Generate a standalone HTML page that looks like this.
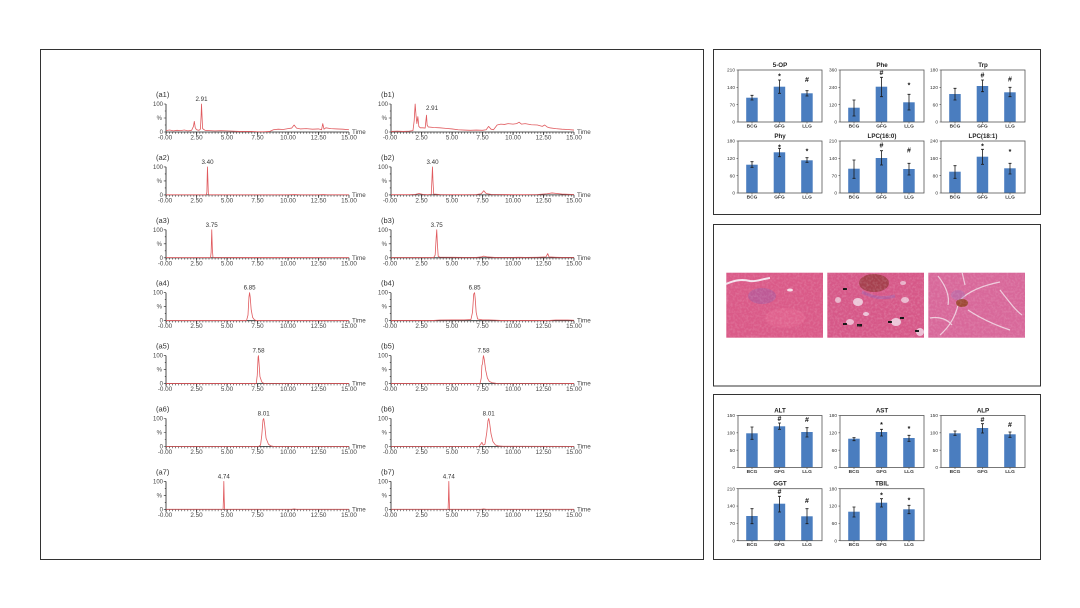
<!DOCTYPE html>
<html><head><meta charset="utf-8"><style>
html,body{margin:0;padding:0;background:#fff;}
svg{display:block;}
text{font-family:"Liberation Sans",sans-serif;}
.lb{font-size:7.5px;fill:#333;}
.yt{font-size:6px;fill:#444;text-anchor:end;}
.xt{font-size:6.3px;fill:#444;text-anchor:middle;}
.pk{font-size:6.2px;fill:#333;text-anchor:middle;}
.tm{font-size:6.3px;fill:#444;}
.tr{fill:none;stroke:#e05a5e;stroke-width:0.8;vector-effect:non-scaling-stroke;stroke-linejoin:round;}
.bt{font-size:6.2px;font-weight:bold;fill:#222;text-anchor:middle;}
.by{font-size:4.8px;fill:#333;text-anchor:end;}
.bx{font-size:4.8px;font-weight:bold;fill:#333;text-anchor:middle;}
.mk{font-size:7px;font-weight:bold;fill:#111;text-anchor:middle;}
.bar{fill:#4a7dbf;}
.eb{stroke:#1a1a1a;stroke-width:0.8;fill:none;}
.fr{fill:none;stroke:#555;stroke-width:0.8;}
</style></head><body>
<svg width="1080" height="608" viewBox="0 0 1080 608" xmlns="http://www.w3.org/2000/svg">
<defs>
<pattern id="tp" patternUnits="userSpaceOnUse" x="0" y="0" width="3.05" height="4">
<rect x="0" y="0" width="0.6" height="4" fill="#333"/>
</pattern>
<g id="axA">
<rect x="0" y="0" width="183" height="1.8" fill="url(#tp)"/>
<path d="M0,-28V0H183" stroke="#222" stroke-width="0.8" fill="none"/>
<path d="M0,0v3M30.5,0v3M61,0v3M91.5,0v3M122,0v3M152.5,0v3M183,0v3" stroke="#222" stroke-width="0.7"/>
<path d="M0,-28h-2.2M0,-14h-2.2M0,0h-2.2M0,-21h-1.2M0,-7h-1.2" stroke="#222" stroke-width="0.6"/>
</g>
<g id="bticks">
<path d="M0,0h-1.5M0,17.33h-1.5M0,34.67h-1.5M0,52h-1.5M14,52v1.5M41.5,52v1.5M69,52v1.5" stroke="#444" stroke-width="0.6"/>
</g>
<filter id="nz" x="0" y="0" width="100%" height="100%">
<feTurbulence type="fractalNoise" baseFrequency="0.45" numOctaves="2" seed="3"/>
<feColorMatrix values="0 0 0 0 1  0 0 0 0 1  0 0 0 0 1  0 0 0 0.9 -0.35"/>
</filter>
</defs>

<rect width="1080" height="608" fill="#fff"/>

<!-- panel frames -->
<rect x="40.5" y="49.5" width="663" height="510" fill="none" stroke="#333" stroke-width="1"/>
<rect x="713.5" y="49.5" width="327" height="165" fill="none" stroke="#333" stroke-width="1"/>
<rect x="713.5" y="224.5" width="327" height="161.5" fill="none" stroke="#333" stroke-width="1"/>
<rect x="713.5" y="394.5" width="327" height="165" fill="none" stroke="#333" stroke-width="1"/>

<!-- ===== chromatograms column a ===== -->
<g transform="translate(166,132)">
<text x="-10" y="-35" class="lb">(a1)</text>
<text x="-3" y="-26" class="yt">100</text><text x="-4" y="-12" class="yt">%</text><text x="-3" y="2" class="yt">0</text>
<use href="#axA"/>
<path class="tr" transform="scale(12.2,-0.28)" d="M0,5 L0.3,7 0.6,4 0.9,6 1.2,5 1.5,7 1.8,4 2.1,6 2.25,20 2.32,38 2.4,15 2.5,8 2.7,6 2.82,10 2.88,60 2.91,100 2.95,60 3.0,12 3.2,6 3.6,5 4,4 4.5,5 5,4 5.5,3 6,2 6.5,2 7,2 7.5,1 8,1 8.5,2 8.8,8 9.2,10 9.6,9 10,12 10.3,14 10.5,25 10.7,14 11,11 11.5,12 12,10 12.5,11 12.75,8 12.85,30 12.95,10 13.1,15 13.5,12 14,11 14.5,10 15,8"/>
<text x="35.5" y="-31" class="pk">2.91</text>
<text x="-1" y="7.5" class="xt">-0.00</text><text x="30.5" y="7.5" class="xt">2.50</text><text x="61" y="7.5" class="xt">5.00</text><text x="91.5" y="7.5" class="xt">7.50</text><text x="122" y="7.5" class="xt">10.00</text><text x="152.5" y="7.5" class="xt">12.50</text><text x="183" y="7.5" class="xt">15.00</text>
<text x="186" y="2" class="tm">Time</text>
</g>

<g transform="translate(166,194.9)">
<text x="-10" y="-35" class="lb">(a2)</text>
<text x="-3" y="-26" class="yt">100</text><text x="-4" y="-12" class="yt">%</text><text x="-3" y="2" class="yt">0</text>
<use href="#axA"/>
<path class="tr" transform="scale(12.2,-0.28)" d="M0,0.5 L3.3,0.5 3.35,10 3.38,70 3.40,100 3.43,60 3.47,5 3.52,0.5 L10,0.5 10.5,1.5 11,0.5 12.5,0.5 12.9,1.5 13.2,0.5 L15,0.5"/>
<text x="41.5" y="-31" class="pk">3.40</text>
<text x="-1" y="7.5" class="xt">-0.00</text><text x="30.5" y="7.5" class="xt">2.50</text><text x="61" y="7.5" class="xt">5.00</text><text x="91.5" y="7.5" class="xt">7.50</text><text x="122" y="7.5" class="xt">10.00</text><text x="152.5" y="7.5" class="xt">12.50</text><text x="183" y="7.5" class="xt">15.00</text>
<text x="186" y="2" class="tm">Time</text>
</g>

<g transform="translate(166,257.8)">
<text x="-10" y="-35" class="lb">(a3)</text>
<text x="-3" y="-26" class="yt">100</text><text x="-4" y="-12" class="yt">%</text><text x="-3" y="2" class="yt">0</text>
<use href="#axA"/>
<path class="tr" transform="scale(12.2,-0.28)" d="M0,0.5 L3.65,0.5 3.7,20 3.75,100 3.8,30 3.85,1 L15,0.5"/>
<text x="45.7" y="-31" class="pk">3.75</text>
<text x="-1" y="7.5" class="xt">-0.00</text><text x="30.5" y="7.5" class="xt">2.50</text><text x="61" y="7.5" class="xt">5.00</text><text x="91.5" y="7.5" class="xt">7.50</text><text x="122" y="7.5" class="xt">10.00</text><text x="152.5" y="7.5" class="xt">12.50</text><text x="183" y="7.5" class="xt">15.00</text>
<text x="186" y="2" class="tm">Time</text>
</g>

<g transform="translate(166,320.7)">
<text x="-10" y="-35" class="lb">(a4)</text>
<text x="-3" y="-26" class="yt">100</text><text x="-4" y="-12" class="yt">%</text><text x="-3" y="2" class="yt">0</text>
<use href="#axA"/>
<path class="tr" transform="scale(12.2,-0.28)" d="M0,0.5 L6.6,0.5 6.72,20 6.8,85 6.85,100 6.9,85 6.98,40 7.1,12 7.25,3 7.4,0.5 L15,0.5"/>
<text x="83.6" y="-31" class="pk">6.85</text>
<text x="-1" y="7.5" class="xt">-0.00</text><text x="30.5" y="7.5" class="xt">2.50</text><text x="61" y="7.5" class="xt">5.00</text><text x="91.5" y="7.5" class="xt">7.50</text><text x="122" y="7.5" class="xt">10.00</text><text x="152.5" y="7.5" class="xt">12.50</text><text x="183" y="7.5" class="xt">15.00</text>
<text x="186" y="2" class="tm">Time</text>
</g>

<g transform="translate(166,383.6)">
<text x="-10" y="-35" class="lb">(a5)</text>
<text x="-3" y="-26" class="yt">100</text><text x="-4" y="-12" class="yt">%</text><text x="-3" y="2" class="yt">0</text>
<use href="#axA"/>
<path class="tr" transform="scale(12.2,-0.28)" d="M0,0.5 L7.4,0.5 7.48,30 7.55,95 7.58,100 7.63,70 7.7,25 7.85,6 8,1 L15,0.5"/>
<text x="92.5" y="-31" class="pk">7.58</text>
<text x="-1" y="7.5" class="xt">-0.00</text><text x="30.5" y="7.5" class="xt">2.50</text><text x="61" y="7.5" class="xt">5.00</text><text x="91.5" y="7.5" class="xt">7.50</text><text x="122" y="7.5" class="xt">10.00</text><text x="152.5" y="7.5" class="xt">12.50</text><text x="183" y="7.5" class="xt">15.00</text>
<text x="186" y="2" class="tm">Time</text>
</g>

<g transform="translate(166,446.5)">
<text x="-10" y="-35" class="lb">(a6)</text>
<text x="-3" y="-26" class="yt">100</text><text x="-4" y="-12" class="yt">%</text><text x="-3" y="2" class="yt">0</text>
<use href="#axA"/>
<path class="tr" transform="scale(12.2,-0.28)" d="M0,0.5 L7.6,0.5 7.75,5 7.85,40 7.95,95 8.01,100 8.08,80 8.2,30 8.4,8 8.6,2 8.8,0.5 L15,0.5"/>
<text x="97.7" y="-31" class="pk">8.01</text>
<text x="-1" y="7.5" class="xt">-0.00</text><text x="30.5" y="7.5" class="xt">2.50</text><text x="61" y="7.5" class="xt">5.00</text><text x="91.5" y="7.5" class="xt">7.50</text><text x="122" y="7.5" class="xt">10.00</text><text x="152.5" y="7.5" class="xt">12.50</text><text x="183" y="7.5" class="xt">15.00</text>
<text x="186" y="2" class="tm">Time</text>
</g>

<g transform="translate(166,509.4)">
<text x="-10" y="-35" class="lb">(a7)</text>
<text x="-3" y="-26" class="yt">100</text><text x="-4" y="-12" class="yt">%</text><text x="-3" y="2" class="yt">0</text>
<use href="#axA"/>
<path class="tr" transform="scale(12.2,-0.28)" d="M0,0.5 L4.68,0.5 4.71,40 4.74,100 4.77,40 4.8,0.5 L10.3,0.5 10.5,2 10.7,0.5 L15,0.5"/>
<text x="57.8" y="-31" class="pk">4.74</text>
<text x="-1" y="7.5" class="xt">-0.00</text><text x="30.5" y="7.5" class="xt">2.50</text><text x="61" y="7.5" class="xt">5.00</text><text x="91.5" y="7.5" class="xt">7.50</text><text x="122" y="7.5" class="xt">10.00</text><text x="152.5" y="7.5" class="xt">12.50</text><text x="183" y="7.5" class="xt">15.00</text>
<text x="186" y="2" class="tm">Time</text>
</g>

<!-- ===== chromatograms column b ===== -->
<g transform="translate(391,132)">
<text x="-10" y="-35" class="lb">(b1)</text>
<text x="-3" y="-26" class="yt">100</text><text x="-4" y="-12" class="yt">%</text><text x="-3" y="2" class="yt">0</text>
<use href="#axA"/>
<path class="tr" transform="scale(12.2,-0.28)" d="M0,2 L0.5,3 1,2 1.5,3 1.8,5 1.9,40 1.98,100 2.05,60 2.12,30 2.2,55 2.28,20 2.4,15 2.6,15 2.8,14 2.86,40 2.91,60 2.96,25 3.05,18 3.5,16 4,15 4.5,13 5,11 5.5,8 6,7 6.5,6 7,7 7.5,6 7.8,8 8.0,20 8.2,10 8.4,8 8.7,25 9,28 9.3,27 9.6,30 10,28 10.3,30 10.5,35 10.7,28 11,30 11.5,26 12,25 12.4,20 12.6,25 12.8,18 13,15 13.5,12 14,10 14.5,9 15,7"/>
<text x="41" y="-22" class="pk">2.91</text>
<text x="-1" y="7.5" class="xt">-0.00</text><text x="30.5" y="7.5" class="xt">2.50</text><text x="61" y="7.5" class="xt">5.00</text><text x="91.5" y="7.5" class="xt">7.50</text><text x="122" y="7.5" class="xt">10.00</text><text x="152.5" y="7.5" class="xt">12.50</text><text x="183" y="7.5" class="xt">15.00</text>
<text x="186" y="2" class="tm">Time</text>
</g>

<g transform="translate(391,194.9)">
<text x="-10" y="-35" class="lb">(b2)</text>
<text x="-3" y="-26" class="yt">100</text><text x="-4" y="-12" class="yt">%</text><text x="-3" y="2" class="yt">0</text>
<use href="#axA"/>
<path class="tr" transform="scale(12.2,-0.28)" d="M0,1 L1.5,1 2,2 2.3,5 2.6,2 3,1 3.3,2 3.36,60 3.40,100 3.44,50 3.5,3 4,1.5 5,1 6,1 7,1.5 7.4,4 7.6,15 7.8,5 8.2,2 9,1.5 10,1 11,1 12,1.5 12.8,4 13.2,7 13.6,5 14,3 15,1.5"/>
<text x="41.5" y="-31" class="pk">3.40</text>
<text x="-1" y="7.5" class="xt">-0.00</text><text x="30.5" y="7.5" class="xt">2.50</text><text x="61" y="7.5" class="xt">5.00</text><text x="91.5" y="7.5" class="xt">7.50</text><text x="122" y="7.5" class="xt">10.00</text><text x="152.5" y="7.5" class="xt">12.50</text><text x="183" y="7.5" class="xt">15.00</text>
<text x="186" y="2" class="tm">Time</text>
</g>

<g transform="translate(391,257.8)">
<text x="-10" y="-35" class="lb">(b3)</text>
<text x="-3" y="-26" class="yt">100</text><text x="-4" y="-12" class="yt">%</text><text x="-3" y="2" class="yt">0</text>
<use href="#axA"/>
<path class="tr" transform="scale(12.2,-0.28)" d="M0,1 L3.5,1 3.62,10 3.7,70 3.75,100 3.8,50 3.87,5 4,2.5 5,2 6,1.5 7,1.5 7.4,3 7.6,6 7.9,3 8.5,1.5 10,1.5 10.5,2 11,1.5 12,2 12.7,3 12.85,15 12.95,3 13.5,2 14,1.5 15,1.5"/>
<text x="45.7" y="-31" class="pk">3.75</text>
<text x="-1" y="7.5" class="xt">-0.00</text><text x="30.5" y="7.5" class="xt">2.50</text><text x="61" y="7.5" class="xt">5.00</text><text x="91.5" y="7.5" class="xt">7.50</text><text x="122" y="7.5" class="xt">10.00</text><text x="152.5" y="7.5" class="xt">12.50</text><text x="183" y="7.5" class="xt">15.00</text>
<text x="186" y="2" class="tm">Time</text>
</g>

<g transform="translate(391,320.7)">
<text x="-10" y="-35" class="lb">(b4)</text>
<text x="-3" y="-26" class="yt">100</text><text x="-4" y="-12" class="yt">%</text><text x="-3" y="2" class="yt">0</text>
<use href="#axA"/>
<path class="tr" transform="scale(12.2,-0.28)" d="M0,1 L3.5,1 4,2.5 5,3 6,3 6.55,4 6.68,30 6.78,95 6.85,100 6.9,80 6.98,30 7.1,6 7.5,3 8,3 8.5,2 9,1 13,1 13.5,2.5 14.5,2.5 15,1.5"/>
<text x="83.6" y="-31" class="pk">6.85</text>
<text x="-1" y="7.5" class="xt">-0.00</text><text x="30.5" y="7.5" class="xt">2.50</text><text x="61" y="7.5" class="xt">5.00</text><text x="91.5" y="7.5" class="xt">7.50</text><text x="122" y="7.5" class="xt">10.00</text><text x="152.5" y="7.5" class="xt">12.50</text><text x="183" y="7.5" class="xt">15.00</text>
<text x="186" y="2" class="tm">Time</text>
</g>

<g transform="translate(391,383.6)">
<text x="-10" y="-35" class="lb">(b5)</text>
<text x="-3" y="-26" class="yt">100</text><text x="-4" y="-12" class="yt">%</text><text x="-3" y="2" class="yt">0</text>
<use href="#axA"/>
<path class="tr" transform="scale(12.2,-0.28)" d="M0,0.5 L7.3,0.5 7.4,20 7.45,65 7.5,70 7.55,92 7.58,100 7.65,85 7.75,50 7.9,20 8.05,8 8.3,3 8.6,1 15,0.5"/>
<text x="92.5" y="-31" class="pk">7.58</text>
<text x="-1" y="7.5" class="xt">-0.00</text><text x="30.5" y="7.5" class="xt">2.50</text><text x="61" y="7.5" class="xt">5.00</text><text x="91.5" y="7.5" class="xt">7.50</text><text x="122" y="7.5" class="xt">10.00</text><text x="152.5" y="7.5" class="xt">12.50</text><text x="183" y="7.5" class="xt">15.00</text>
<text x="186" y="2" class="tm">Time</text>
</g>

<g transform="translate(391,446.5)">
<text x="-10" y="-35" class="lb">(b6)</text>
<text x="-3" y="-26" class="yt">100</text><text x="-4" y="-12" class="yt">%</text><text x="-3" y="2" class="yt">0</text>
<use href="#axA"/>
<path class="tr" transform="scale(12.2,-0.28)" d="M0,0.5 L7.2,0.5 7.35,8 7.45,15 7.55,5 7.7,8 7.85,50 7.95,92 8.01,100 8.08,85 8.2,45 8.35,18 8.55,6 8.8,2 9.2,1 15,0.5"/>
<text x="97.7" y="-31" class="pk">8.01</text>
<text x="-1" y="7.5" class="xt">-0.00</text><text x="30.5" y="7.5" class="xt">2.50</text><text x="61" y="7.5" class="xt">5.00</text><text x="91.5" y="7.5" class="xt">7.50</text><text x="122" y="7.5" class="xt">10.00</text><text x="152.5" y="7.5" class="xt">12.50</text><text x="183" y="7.5" class="xt">15.00</text>
<text x="186" y="2" class="tm">Time</text>
</g>

<g transform="translate(391,509.4)">
<text x="-10" y="-35" class="lb">(b7)</text>
<text x="-3" y="-26" class="yt">100</text><text x="-4" y="-12" class="yt">%</text><text x="-3" y="2" class="yt">0</text>
<use href="#axA"/>
<path class="tr" transform="scale(12.2,-0.28)" d="M0,0.5 L4.68,0.5 4.71,40 4.74,100 4.77,40 4.8,0.5 L7.4,0.5 7.6,2 7.8,0.5 L15,0.5"/>
<text x="57.8" y="-31" class="pk">4.74</text>
<text x="-1" y="7.5" class="xt">-0.00</text><text x="30.5" y="7.5" class="xt">2.50</text><text x="61" y="7.5" class="xt">5.00</text><text x="91.5" y="7.5" class="xt">7.50</text><text x="122" y="7.5" class="xt">10.00</text><text x="152.5" y="7.5" class="xt">12.50</text><text x="183" y="7.5" class="xt">15.00</text>
<text x="186" y="2" class="tm">Time</text>
</g>

<!-- ===== top right bar charts ===== -->
<!-- 5-OP -->
<g transform="translate(738,70)">
<text x="42" y="-3" class="bt">5-OP</text>
<rect class="bar" x="8.2" y="27.7" width="11.5" height="24.3"/>
<rect class="bar" x="35.7" y="16.7" width="11.5" height="35.3"/>
<rect class="bar" x="63.2" y="23.3" width="11.5" height="28.7"/>
<path class="eb" d="M14,25.3V30M12.5,25.3h3M12.5,30h3M41.5,10V23.3M40,10h3M40,23.3h3M69,20.7V26M67.5,20.7h3M67.5,26h3"/>
<text x="41.5" y="8.3" class="mk">*</text><text x="69" y="11.8" class="mk">#</text>
<rect class="fr" x="0" y="0" width="84" height="52"/><use href="#bticks"/>
<text x="-3" y="1.7" class="by">210</text><text x="-3" y="19" class="by">140</text><text x="-3" y="36.3" class="by">70</text><text x="-3" y="53.7" class="by">0</text>
<text x="14" y="57.5" class="bx">BCG</text><text x="41.5" y="57.5" class="bx">GFG</text><text x="69" y="57.5" class="bx">LLG</text>
</g>
<!-- Phe -->
<g transform="translate(840,70)">
<text x="42" y="-3" class="bt">Phe</text>
<rect class="bar" x="8.2" y="37.7" width="11.5" height="14.3"/>
<rect class="bar" x="35.7" y="16.7" width="11.5" height="35.3"/>
<rect class="bar" x="63.2" y="32.3" width="11.5" height="19.7"/>
<path class="eb" d="M14,30V46M12.5,30h3M12.5,46h3M41.5,7.3V26.7M40,7.3h3M40,26.7h3M69,24.3V40M67.5,24.3h3M67.5,40h3"/>
<text x="41.5" y="5.2" class="mk">#</text><text x="69" y="17.3" class="mk">*</text>
<rect class="fr" x="0" y="0" width="84" height="52"/><use href="#bticks"/>
<text x="-3" y="1.7" class="by">360</text><text x="-3" y="19" class="by">240</text><text x="-3" y="36.3" class="by">120</text><text x="-3" y="53.7" class="by">0</text>
<text x="14" y="57.5" class="bx">BCG</text><text x="41.5" y="57.5" class="bx">GFG</text><text x="69" y="57.5" class="bx">LLG</text>
</g>
<!-- Trp -->
<g transform="translate(941,70)">
<text x="42" y="-3" class="bt">Trp</text>
<rect class="bar" x="8.2" y="24" width="11.5" height="28"/>
<rect class="bar" x="35.7" y="16" width="11.5" height="36"/>
<rect class="bar" x="63.2" y="22.3" width="11.5" height="29.7"/>
<path class="eb" d="M14,18.3V30M12.5,18.3h3M12.5,30h3M41.5,10V21.7M40,10h3M40,21.7h3M69,17.3V26.7M67.5,17.3h3M67.5,26.7h3"/>
<text x="41.5" y="7.5" class="mk">#</text><text x="69" y="11.5" class="mk">#</text>
<rect class="fr" x="0" y="0" width="84" height="52"/><use href="#bticks"/>
<text x="-3" y="1.7" class="by">180</text><text x="-3" y="19" class="by">120</text><text x="-3" y="36.3" class="by">60</text><text x="-3" y="53.7" class="by">0</text>
<text x="14" y="57.5" class="bx">BCG</text><text x="41.5" y="57.5" class="bx">GFG</text><text x="69" y="57.5" class="bx">LLG</text>
</g>
<!-- Phy -->
<g transform="translate(738,141)">
<text x="42" y="-3" class="bt">Phy</text>
<rect class="bar" x="8.2" y="23.7" width="11.5" height="28.3"/>
<rect class="bar" x="35.7" y="11.3" width="11.5" height="40.7"/>
<rect class="bar" x="63.2" y="19.3" width="11.5" height="32.7"/>
<path class="eb" d="M14,20.7V26.3M12.5,20.7h3M12.5,26.3h3M41.5,7.3V15.7M40,7.3h3M40,15.7h3M69,16.7V21.3M67.5,16.7h3M67.5,21.3h3"/>
<text x="41.5" y="8.3" class="mk">*</text><text x="69" y="12.3" class="mk">*</text>
<rect class="fr" x="0" y="0" width="84" height="52"/><use href="#bticks"/>
<text x="-3" y="1.7" class="by">180</text><text x="-3" y="19" class="by">120</text><text x="-3" y="36.3" class="by">60</text><text x="-3" y="53.7" class="by">0</text>
<text x="14" y="57.5" class="bx">BCG</text><text x="41.5" y="57.5" class="bx">GFG</text><text x="69" y="57.5" class="bx">LLG</text>
</g>
<!-- LPC(16:0) -->
<g transform="translate(840,141)">
<text x="42" y="-3" class="bt">LPC(16:0)</text>
<rect class="bar" x="8.2" y="27.7" width="11.5" height="24.3"/>
<rect class="bar" x="35.7" y="17" width="11.5" height="35"/>
<rect class="bar" x="63.2" y="28" width="11.5" height="24"/>
<path class="eb" d="M14,19V37.3M12.5,19h3M12.5,37.3h3M41.5,9.7V24M40,9.7h3M40,24h3M69,22.3V34M67.5,22.3h3M67.5,34h3"/>
<text x="41.5" y="6.5" class="mk">#</text><text x="69" y="11.5" class="mk">#</text>
<rect class="fr" x="0" y="0" width="84" height="52"/><use href="#bticks"/>
<text x="-3" y="1.7" class="by">210</text><text x="-3" y="19" class="by">140</text><text x="-3" y="36.3" class="by">70</text><text x="-3" y="53.7" class="by">0</text>
<text x="14" y="57.5" class="bx">BCG</text><text x="41.5" y="57.5" class="bx">GFG</text><text x="69" y="57.5" class="bx">LLG</text>
</g>
<!-- LPC(18:1) -->
<g transform="translate(941,141)">
<text x="42" y="-3" class="bt">LPC(18:1)</text>
<rect class="bar" x="8.2" y="30.7" width="11.5" height="21.3"/>
<rect class="bar" x="35.7" y="15.7" width="11.5" height="36.3"/>
<rect class="bar" x="63.2" y="27.3" width="11.5" height="24.7"/>
<path class="eb" d="M14,24.7V37.3M12.5,24.7h3M12.5,37.3h3M41.5,8.3V23.3M40,8.3h3M40,23.3h3M69,22.3V33M67.5,22.3h3M67.5,33h3"/>
<text x="41.5" y="7.3" class="mk">*</text><text x="69" y="13" class="mk">*</text>
<rect class="fr" x="0" y="0" width="84" height="52"/><use href="#bticks"/>
<text x="-3" y="1.7" class="by">240</text><text x="-3" y="19" class="by">160</text><text x="-3" y="36.3" class="by">80</text><text x="-3" y="53.7" class="by">0</text>
<text x="14" y="57.5" class="bx">BCG</text><text x="41.5" y="57.5" class="bx">GFG</text><text x="69" y="57.5" class="bx">LLG</text>
</g>

<!-- ===== histology ===== -->
<g>
<rect x="726.3" y="272.7" width="96.7" height="65" fill="#da5a88"/>
<ellipse cx="762" cy="296" rx="14" ry="8" fill="#9a5aa8" opacity="0.45"/>
<ellipse cx="785" cy="318" rx="20" ry="10" fill="#e66a94" opacity="0.5"/>
<path d="M726,284 C735,280 742,279 750,281 C756,282 762,279 770,278" stroke="#f4e4ee" stroke-width="2" fill="none"/>
<ellipse cx="790" cy="290" rx="3" ry="1.5" fill="#f4dfe8"/>
<rect x="726.3" y="272.7" width="96.7" height="65" filter="url(#nz)" opacity="0.35"/>

<rect x="827.3" y="272.7" width="96.7" height="65" fill="#d65888"/>
<ellipse cx="874" cy="283" rx="15" ry="9" fill="#a6404e"/>
<path d="M862,292 C870,296 880,300 895,296" stroke="#9a60b0" stroke-width="3" fill="none" opacity="0.5"/>
<ellipse cx="858" cy="302" rx="5" ry="4" fill="#f0d8e6" opacity="0.85"/>
<ellipse cx="866" cy="314" rx="3" ry="2" fill="#f0d8e6" opacity="0.85"/>
<ellipse cx="896" cy="322" rx="5" ry="4" fill="#f0d8e6" opacity="0.85"/>
<ellipse cx="905" cy="300" rx="4" ry="3" fill="#f0d8e6" opacity="0.75"/>
<ellipse cx="850" cy="322" rx="4" ry="3" fill="#f0d8e6" opacity="0.75"/>
<ellipse cx="920" cy="332" rx="4" ry="4" fill="#f0d8e6" opacity="0.8"/>
<ellipse cx="838" cy="300" rx="3" ry="3" fill="#f0d8e6" opacity="0.7"/>
<ellipse cx="903" cy="283" rx="3" ry="2" fill="#f0d8e6" opacity="0.7"/>
<g fill="#111">
<rect x="843" y="288" width="4" height="2"/>
<rect x="843" y="323" width="4" height="2"/>
<rect x="857" y="324" width="5" height="2.5"/>
<rect x="888" y="321" width="4" height="2"/>
<rect x="900" y="317" width="4" height="2"/>
<rect x="915" y="330" width="4" height="2"/>
</g>
<rect x="827.3" y="272.7" width="96.7" height="65" filter="url(#nz)" opacity="0.4"/>

<rect x="928.3" y="272.7" width="96.7" height="65" fill="#d8689a"/>
<g stroke="#f2dde8" stroke-width="1.2" fill="none" opacity="0.85">
<path d="M938,276 C945,285 950,295 948,305"/>
<path d="M960,300 C970,290 985,285 1000,282"/>
<path d="M958,305 C955,318 948,328 940,335"/>
<path d="M968,310 C980,318 995,325 1010,330"/>
<path d="M1000,290 C1008,300 1015,310 1022,315"/>
<path d="M965,285 L962,272"/>
<path d="M930,318 C940,316 948,320 952,325"/>
</g>
<ellipse cx="962" cy="303" rx="6" ry="4" fill="#9e4a36"/>
<ellipse cx="958" cy="295" rx="7" ry="5" fill="#9a70b8" opacity="0.35"/>
<rect x="928.3" y="272.7" width="96.7" height="65" filter="url(#nz)" opacity="0.35"/>
</g>

<!-- ===== bottom right bar charts ===== -->
<!-- ALT -->
<g transform="translate(738,415.5)">
<text x="42" y="-3" class="bt">ALT</text>
<rect class="bar" x="8.2" y="17.8" width="11.5" height="34.2"/>
<rect class="bar" x="35.7" y="10.8" width="11.5" height="41.2"/>
<rect class="bar" x="63.2" y="16.5" width="11.5" height="35.5"/>
<path class="eb" d="M14,11.5V23.8M12.5,11.5h3M12.5,23.8h3M41.5,7.5V13.8M40,7.5h3M40,13.8h3M69,12.2V21.5M67.5,12.2h3M67.5,21.5h3"/>
<text x="41.5" y="5.7" class="mk">#</text><text x="69" y="6.3" class="mk">#</text>
<rect class="fr" x="0" y="0" width="84" height="52"/><use href="#bticks"/>
<text x="-3" y="1.7" class="by">150</text><text x="-3" y="19" class="by">100</text><text x="-3" y="36.3" class="by">50</text><text x="-3" y="53.7" class="by">0</text>
<text x="14" y="57.5" class="bx">BCG</text><text x="41.5" y="57.5" class="bx">GFG</text><text x="69" y="57.5" class="bx">LLG</text>
</g>
<!-- AST -->
<g transform="translate(840,415.5)">
<text x="42" y="-3" class="bt">AST</text>
<rect class="bar" x="8.2" y="23.2" width="11.5" height="28.8"/>
<rect class="bar" x="35.7" y="16.5" width="11.5" height="35.5"/>
<rect class="bar" x="63.2" y="22.5" width="11.5" height="29.5"/>
<path class="eb" d="M14,22.2V25.2M12.5,22.2h3M12.5,25.2h3M41.5,13.8V20.5M40,13.8h3M40,20.5h3M69,19.8V25.8M67.5,19.8h3M67.5,25.8h3"/>
<text x="41.5" y="11.5" class="mk">*</text><text x="69" y="15.5" class="mk">*</text>
<rect class="fr" x="0" y="0" width="84" height="52"/><use href="#bticks"/>
<text x="-3" y="1.7" class="by">180</text><text x="-3" y="19" class="by">120</text><text x="-3" y="36.3" class="by">60</text><text x="-3" y="53.7" class="by">0</text>
<text x="14" y="57.5" class="bx">BCG</text><text x="41.5" y="57.5" class="bx">GFG</text><text x="69" y="57.5" class="bx">LLG</text>
</g>
<!-- ALP -->
<g transform="translate(941,415.5)">
<text x="42" y="-3" class="bt">ALP</text>
<rect class="bar" x="8.2" y="17.8" width="11.5" height="34.2"/>
<rect class="bar" x="35.7" y="12.5" width="11.5" height="39.5"/>
<rect class="bar" x="63.2" y="18.8" width="11.5" height="33.2"/>
<path class="eb" d="M14,15.5V19.8M12.5,15.5h3M12.5,19.8h3M41.5,8.2V17.5M40,8.2h3M40,17.5h3M69,16.5V21.8M67.5,16.5h3M67.5,21.8h3"/>
<text x="41.5" y="6.3" class="mk">#</text><text x="69" y="11.3" class="mk">#</text>
<rect class="fr" x="0" y="0" width="84" height="52"/><use href="#bticks"/>
<text x="-3" y="1.7" class="by">150</text><text x="-3" y="19" class="by">100</text><text x="-3" y="36.3" class="by">50</text><text x="-3" y="53.7" class="by">0</text>
<text x="14" y="57.5" class="bx">BCG</text><text x="41.5" y="57.5" class="bx">GFG</text><text x="69" y="57.5" class="bx">LLG</text>
</g>
<!-- GGT -->
<g transform="translate(738,488.7)">
<text x="42" y="-3" class="bt">GGT</text>
<rect class="bar" x="8.2" y="27.3" width="11.5" height="24.7"/>
<rect class="bar" x="35.7" y="15" width="11.5" height="37"/>
<rect class="bar" x="63.2" y="27.6" width="11.5" height="24.4"/>
<path class="eb" d="M14,20V35M12.5,20h3M12.5,35h3M41.5,7.6V23.3M40,7.6h3M40,23.3h3M69,20V35M67.5,20h3M67.5,35h3"/>
<text x="41.5" y="5.1" class="mk">#</text><text x="69" y="14.1" class="mk">#</text>
<rect class="fr" x="0" y="0" width="84" height="52"/><use href="#bticks"/>
<text x="-3" y="1.7" class="by">210</text><text x="-3" y="19" class="by">140</text><text x="-3" y="36.3" class="by">70</text><text x="-3" y="53.7" class="by">0</text>
<text x="14" y="57.5" class="bx">BCG</text><text x="41.5" y="57.5" class="bx">GFG</text><text x="69" y="57.5" class="bx">LLG</text>
</g>
<!-- TBIL -->
<g transform="translate(840,488.7)">
<text x="42" y="-3" class="bt">TBIL</text>
<rect class="bar" x="8.2" y="23" width="11.5" height="29"/>
<rect class="bar" x="35.7" y="14" width="11.5" height="38"/>
<rect class="bar" x="63.2" y="20.6" width="11.5" height="31.4"/>
<path class="eb" d="M14,18.3V28.3M12.5,18.3h3M12.5,28.3h3M41.5,10V18.3M40,10h3M40,18.3h3M69,16.6V25M67.5,16.6h3M67.5,25h3"/>
<text x="41.5" y="9" class="mk">*</text><text x="69" y="14" class="mk">*</text>
<rect class="fr" x="0" y="0" width="84" height="52"/><use href="#bticks"/>
<text x="-3" y="1.7" class="by">180</text><text x="-3" y="19" class="by">120</text><text x="-3" y="36.3" class="by">60</text><text x="-3" y="53.7" class="by">0</text>
<text x="14" y="57.5" class="bx">BCG</text><text x="41.5" y="57.5" class="bx">GFG</text><text x="69" y="57.5" class="bx">LLG</text>
</g>

</svg>
</body></html>
